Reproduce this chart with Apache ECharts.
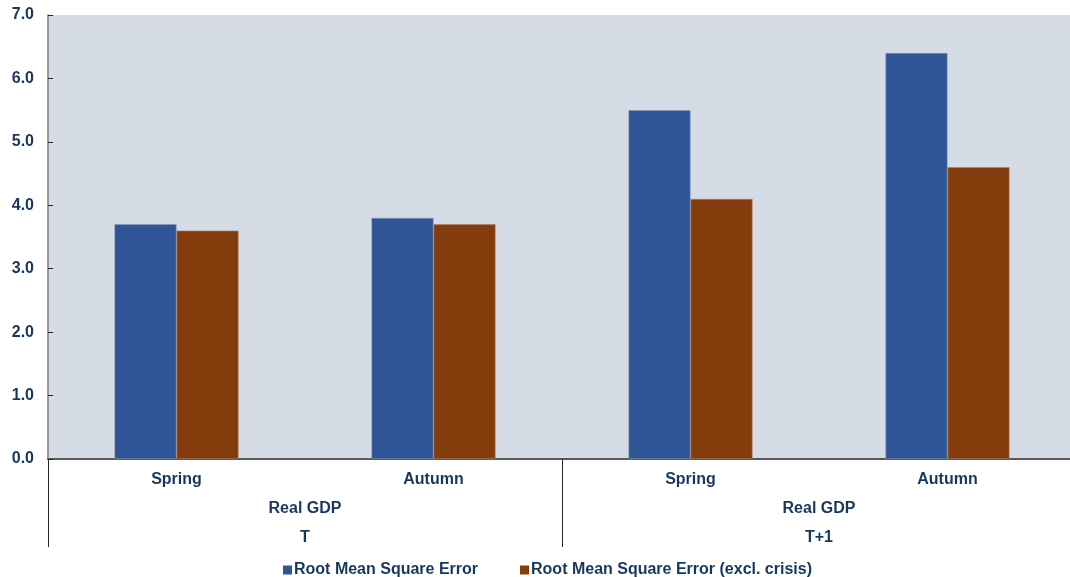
<!DOCTYPE html>
<html>
<head>
<meta charset="utf-8">
<script src="https://cdn.jsdelivr.net/npm/echarts@6/dist/echarts.min.js"></script>
<style>
  html, body { margin: 0; padding: 0; background: #ffffff; }
  #chart { width: 1070px; height: 577px; }
</style>
</head>
<body>
<div id="chart"></div>
<script>
// Forecast accuracy of real GDP, by vintage and horizon
const seasons = ['Spring', 'Autumn', 'Spring', 'Autumn'];
const variableLabels = ['Real GDP', 'Real GDP'];
const horizonLabels = ['T', 'T+1'];
const rmse = [3.7, 3.8, 5.5, 6.4];
const rmseExclCrisis = [3.6, 3.7, 4.1, 4.6];
const yTicks = [0, 1, 2, 3, 4, 5, 6, 7];

const textColor = '#17375E';
const font = { fontFamily: 'Liberation Sans, Arial, sans-serif', fontWeight: 'bold', fontSize: 16, color: textColor };

const chart = echarts.init(document.getElementById('chart'), null, { renderer: 'canvas' });

chart.setOption({
  animation: false,
  backgroundColor: '#ffffff',
  grid: {
    left: 48, top: 15, width: 1028, height: 444,
    outerBoundsMode: 'none', containLabel: false,
    show: true, backgroundColor: '#D6DCE5', borderWidth: 0
  },
  legend: {
    left: 278, top: 557,
    itemWidth: 9, itemHeight: 9, itemGap: 42,
    icon: 'rect',
    itemStyle: { borderWidth: 0 },
    textStyle: Object.assign({}, font, { padding: [0, 0, 0, -3] }),
    data: ['Root Mean Square Error', 'Root Mean Square Error (excl. crisis)']
  },
  xAxis: [
    {
      type: 'category', data: seasons, position: 'bottom',
      axisLine: { show: true, lineStyle: { color: '#595959', width: 2 } },
      axisTick: { show: false },
      axisLabel: Object.assign({}, font, { margin: 13 })
    },
    {
      type: 'category', data: variableLabels, position: 'bottom',
      axisLine: { show: false },
      axisTick: { show: true, length: 88, lineStyle: { color: '#262626', width: 1 } },
      axisLabel: Object.assign({}, font, { margin: 42 })
    },
    {
      type: 'category', data: horizonLabels, position: 'bottom',
      axisLine: { show: false },
      axisTick: { show: false },
      axisLabel: Object.assign({}, font, { margin: 71 })
    }
  ],
  yAxis: {
    type: 'value', min: yTicks[0], max: yTicks[yTicks.length - 1], interval: 1,
    axisLine: { show: true, lineStyle: { color: '#7F7F7F', width: 1.5 } },
    axisTick: { show: true, inside: true, length: 5, lineStyle: { color: '#262626' } },
    splitLine: { show: false },
    axisLabel: Object.assign({}, font, { margin: 14, formatter: v => v.toFixed(1) })
  },
  series: [
    {
      name: 'Root Mean Square Error', type: 'bar', xAxisIndex: 0,
      data: rmse, barWidth: 62, barGap: '0%',
      itemStyle: { color: '#2F5597', borderColor: '#8497B0', borderWidth: 0.6 }
    },
    {
      name: 'Root Mean Square Error (excl. crisis)', type: 'bar', xAxisIndex: 0,
      data: rmseExclCrisis, barWidth: 62, barGap: '0%',
      itemStyle: { color: '#843C0C', borderColor: '#B08060', borderWidth: 0.6 }
    }
  ]
});
</script>
</body>
</html>
